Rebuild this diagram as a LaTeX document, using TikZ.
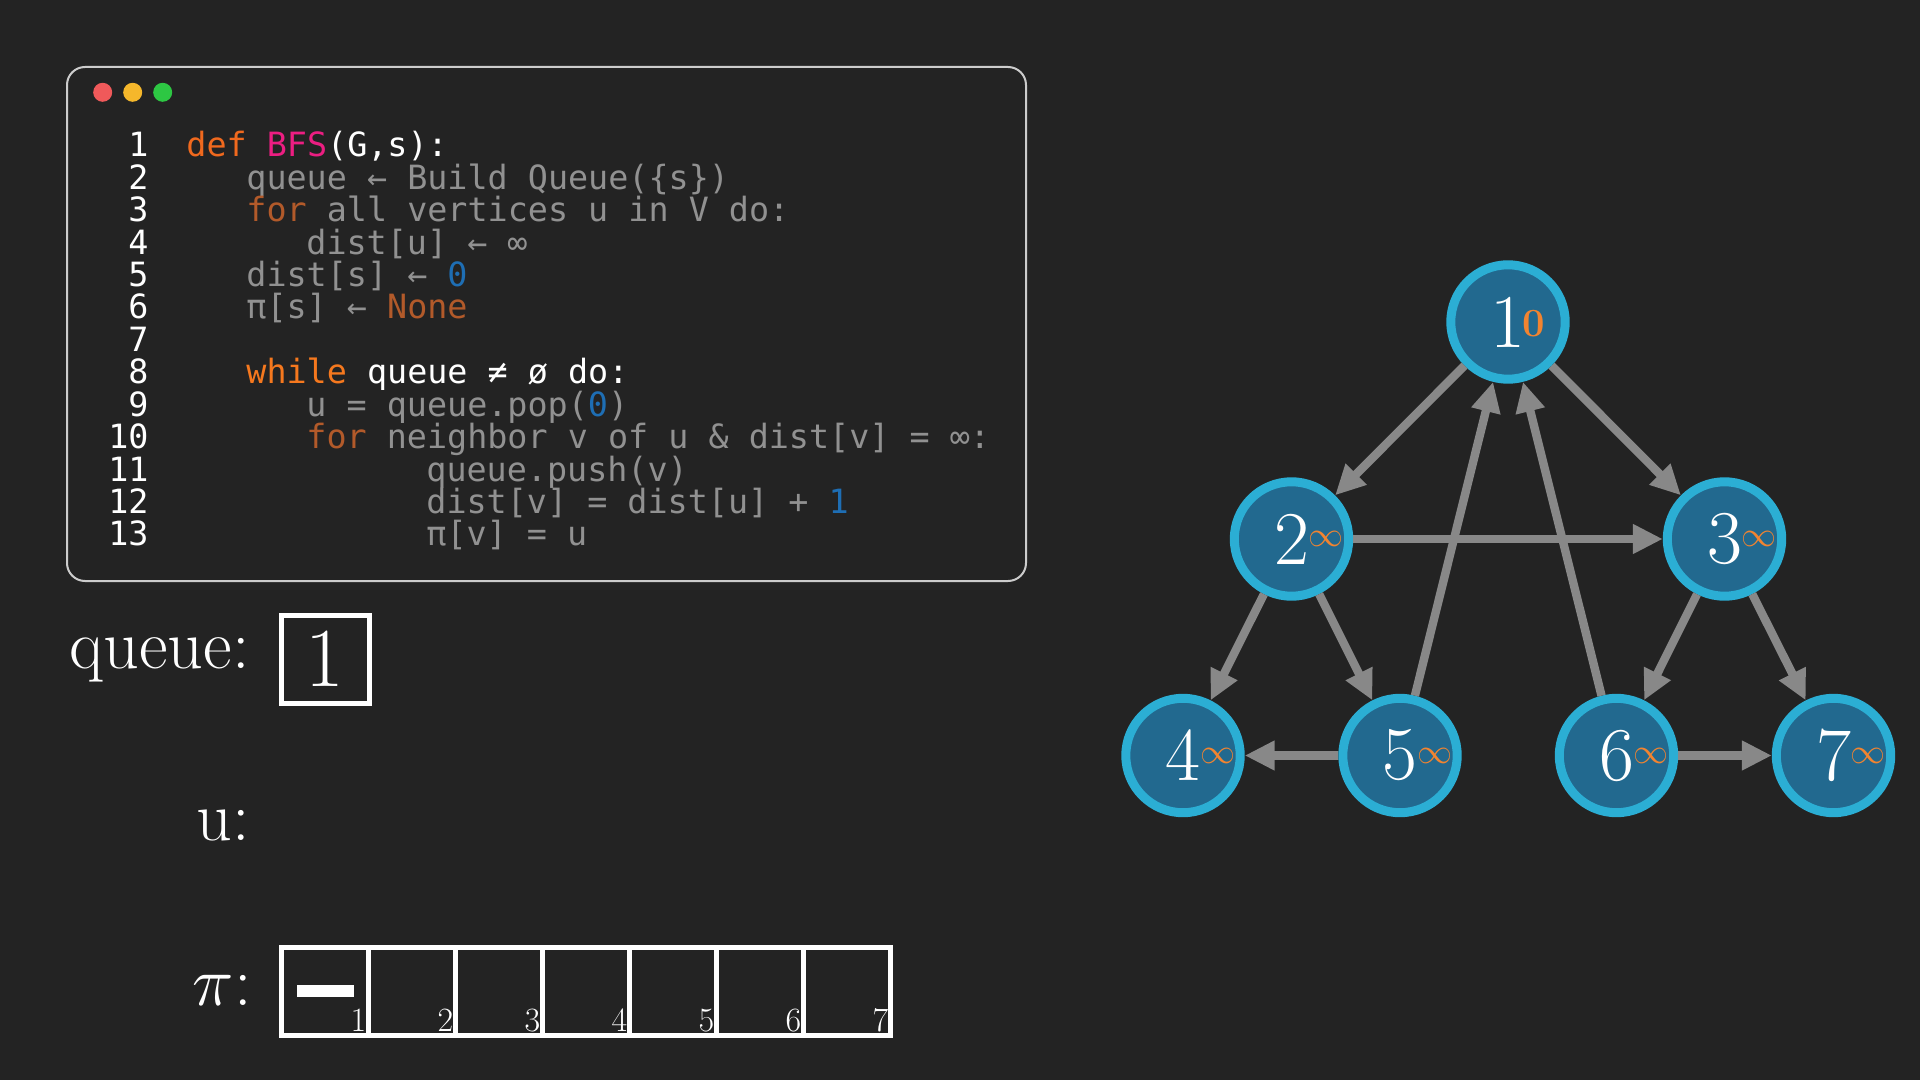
\RequirePackage{fix-cm}
\documentclass[tikz,border=0pt]{standalone}
\usepackage{fontspec}
\usepackage{amsmath}
\usetikzlibrary{arrows.meta}
\newfontfamily\codefont{DejaVu Sans Mono}
\definecolor{bgcol}{RGB}{35,35,35}
\definecolor{codegray}{RGB}{145,145,145}
\definecolor{kwdef}{RGB}{240,105,30}
\definecolor{kwwhile}{RGB}{245,120,30}
\definecolor{kwfor}{RGB}{178,90,42}
\definecolor{fnpink}{RGB}{236,30,130}
\definecolor{numblue}{RGB}{30,110,180}
\definecolor{vfill}{RGB}{34,105,143}
\definecolor{vring}{RGB}{43,174,212}
\definecolor{distor}{RGB}{242,132,48}
\definecolor{edgegray}{RGB}{136,136,136}
\definecolor{dotred}{RGB}{240,89,90}
\definecolor{dotyellow}{RGB}{245,183,43}
\definecolor{dotgreen}{RGB}{45,199,67}
\def\larr{←}
\newcommand{\kw}[2]{{\color{#1}#2}}

\tikzset{
  lnum/.style={anchor=base east, inner sep=0, text=white, font=\codefont\fontsize{16.7pt}{18pt}\selectfont},
  code/.style={anchor=base west, inner sep=0, text=codegray, font=\codefont\fontsize{16.7pt}{18pt}\selectfont},
  vtx/.style={circle, draw=vring, fill=vfill, line width=4.5pt, minimum size=57.2pt, inner sep=0,
    text=white, font=\fontsize{38pt}{40pt}\selectfont},
  dist/.style={anchor=west, inner sep=0, text=distor, font=\fontsize{17.5pt}{18pt}\selectfont},
  edge/.style={draw=edgegray, line width=4.2pt, -{Triangle[length=15pt,width=14pt]}},
  big/.style={anchor=base east, inner sep=0, text=white, font=\fontsize{35pt}{38pt}\selectfont},
  qbox/.style={draw=white, line width=2.5pt, minimum size=44pt, inner sep=0, text=white,
    font=\fontsize{42pt}{44pt}\selectfont},
  cellbox/.style={draw=white, line width=2.5pt, minimum width=43.5pt, minimum height=44pt, inner sep=0},
  idx/.style={anchor=base east, inner sep=0, text=white, font=\fontsize{17pt}{18pt}\selectfont}
}

\begin{document}
\begin{tikzpicture}[x=0.5pt, y=-0.5pt]
\useasboundingbox (0,0) rectangle (1920,1080);
\fill[bgcol] (0,0) rectangle (1920,1080);

% code window
\draw[white!80!black, line width=1pt, rounded corners=9pt] (67,67) rectangle (1026,581);
\fill[dotred] (102.7,92.3) circle (4.75pt);
\fill[dotyellow] (132.7,92.3) circle (4.75pt);
\fill[dotgreen] (162.7,92.3) circle (4.75pt);
\foreach \i in {1,...,13}
  \node[lnum] (l\i) at (149, {157+32.4*(\i-1)}) {\i};
\node[code] (c1) at (186,157) {\kw{kwdef}{def} \kw{fnpink}{BFS}\kw{white}{(G,s):}};
\node[code] (c2) at (246,189.4) {queue \larr{} Build Queue(\{s\})};
\node[code] (c3) at (246,221.8) {\kw{kwfor}{for} all vertices u in V do:};
\node[code] (c4) at (306,254.2) {dist[u] \larr{} ∞};
\node[code] (c5) at (246,286.6) {dist[s] \larr{} \kw{numblue}{0}};
\node[code] (c6) at (246,319) {π[s] \larr{} \kw{kwfor}{None}};
\node[code] (c8) at (246,383.8) {\kw{kwwhile}{while} \kw{white}{queue ≠ ø do:}};
\node[code] (c9) at (306,416.2) {u = queue.pop(\kw{numblue}{0})};
\node[code] (c10) at (306,448.6) {\kw{kwfor}{for} neighbor v of u \& dist[v] = ∞:};
\node[code] (c11) at (426,481) {queue.push(v)};
\node[code] (c12) at (426,513.4) {dist[v] = dist[u] + \kw{numblue}{1}};
\node[code] (c13) at (426,545.8) {π[v] = u};

% queue, u and pi
\node[big] (qlab) at (250,668) {queue:};
\node[qbox] (q1) at (325,659) {1};
\node[big] (ulab) at (250,840) {u:};
\node[big] (plab) at (252,1005) {$\pi$:};
\foreach \i in {1,...,7} {
  \node[cellbox] (p\i) at ({281+87*(\i-0.5)},991) {};
  \node[idx] (i\i) at ([xshift=-2pt, yshift=3pt]p\i.south east) {\i};
}
\fill[white] (297,985) rectangle (354,997);

% graph
\draw(1508,322) node[vtx] (n1) {1};
\draw(1291.5,539) node[vtx] (n2) {2};
\draw(1724.5,539) node[vtx] (n3) {3};
\draw(1183,755.5) node[vtx] (n4) {4};
\draw(1400,755.5) node[vtx] (n5) {5};
\draw(1616.5,755.5) node[vtx] (n6) {6};
\draw(1833.5,755.5) node[vtx] (n7) {7};
\node[dist, font=\bfseries\fontsize{20pt}{22pt}\selectfont] (d1) at ([xshift=7pt, yshift=-1pt]n1.center) {0};
\foreach \v in {2,...,7}
  \node[dist] (d\v) at ([xshift=8.5pt]n\v.center) {$\infty$};

\draw[edge] (n1) -- (n2);
\draw[edge] (n1) -- (n3);
\draw[edge] (n2) -- (n3);
\draw[edge] (n2) -- (n4);
\draw[edge] (n2) -- (n5);
\draw[edge] (n5) -- (n1);
\draw[edge] (n6) -- (n1);
\draw[edge] (n3) -- (n6);
\draw[edge] (n3) -- (n7);
\draw[edge] (n5) -- (n4);
\draw[edge] (n6) -- (n7);
\end{tikzpicture}
\end{document}
